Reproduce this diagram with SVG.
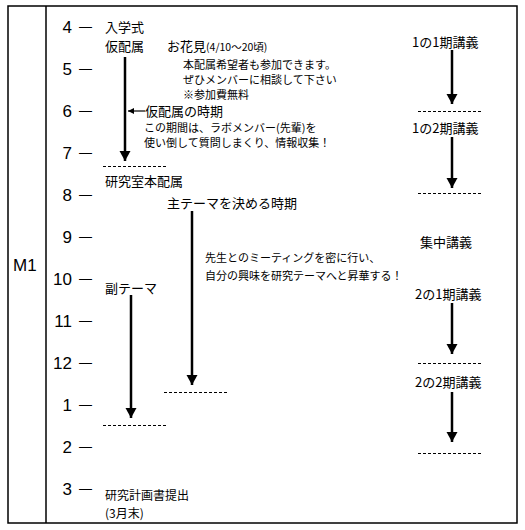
<svg xmlns="http://www.w3.org/2000/svg" width="525" height="530" viewBox="0 0 525 530">
<defs>
<style>
.num{font-family:"Liberation Sans",Arial,sans-serif;font-size:17px;fill:#000;text-anchor:end}
.dash{font-family:"Liberation Sans",Arial,sans-serif;font-size:13px;fill:#000}
.jp{font-family:"Noto Sans CJK JP","Noto Sans",sans-serif;font-size:13px;fill:#000}
.sm{font-family:"Noto Sans CJK JP","Noto Sans",sans-serif;font-size:11px;fill:#000}
.arr{stroke:#000;stroke-width:2.5;fill:none;marker-end:url(#ah)}
.dl{stroke:#000;stroke-width:1;stroke-dasharray:3 2;fill:none}
.frame{stroke:#000;stroke-width:1.5;fill:#fff}
</style>
<marker id="ah" markerUnits="userSpaceOnUse" markerWidth="11" markerHeight="12" refX="10" refY="5.5" orient="auto" viewBox="0 0 11 12">
<path d="M0,0 L10,5.5 L0,11 z" fill="#000"/>
</marker>
<marker id="ahs" markerUnits="userSpaceOnUse" markerWidth="7" markerHeight="6" refX="6" refY="3" orient="auto" viewBox="0 0 7 6">
<path d="M0,0 L6,3 L0,6 z" fill="#000"/>
</marker>
</defs>
<rect x="0" y="0" width="525" height="530" fill="#fff"/>
<g id="frame">
<rect class="frame" x="8" y="6" width="509" height="517"/>
<line x1="46" y1="6" x2="46" y2="523" stroke="#000" stroke-width="1.5"/>
<text x="13" y="271" style="font-family:'Liberation Sans',Arial,sans-serif;font-size:17px">M1</text>
</g>
<g id="months">
<text class="num" x="72" y="33">4</text><text class="dash" x="79" y="30.6">—</text>
<text class="num" x="72" y="75">5</text><text class="dash" x="79" y="72.6">—</text>
<text class="num" x="72" y="117">6</text><text class="dash" x="79" y="114.6">—</text>
<text class="num" x="72" y="159">7</text><text class="dash" x="79" y="156.6">—</text>
<text class="num" x="72" y="201">8</text><text class="dash" x="79" y="198.6">—</text>
<text class="num" x="72" y="243">9</text><text class="dash" x="79" y="240.6">—</text>
<text class="num" x="72" y="285">10</text><text class="dash" x="79" y="282.6">—</text>
<text class="num" x="72" y="327">11</text><text class="dash" x="79" y="324.6">—</text>
<text class="num" x="72" y="369">12</text><text class="dash" x="79" y="366.6">—</text>
<text class="num" x="72" y="411">1</text><text class="dash" x="79" y="408.6">—</text>
<text class="num" x="72" y="453">2</text><text class="dash" x="79" y="450.6">—</text>
<text class="num" x="72" y="495">3</text><text class="dash" x="79" y="492.6">—</text>
</g>
<g id="n-nyugaku">
<text class="jp" x="105" y="32">入学式</text>
<text class="jp" x="105" y="51">仮配属</text>
</g>
<g id="n-ohanami">
<text class="jp" x="167" y="51">お花見<tspan style="font-size:10.5px">(4/10～20頃)</tspan></text>
<text class="sm" x="183" y="69">本配属希望者も参加できます。</text>
<text class="sm" x="183" y="84">ぜひメンバーに相談して下さい</text>
<text class="sm" x="183" y="99">※参加費無料</text>
</g>
<g id="n-karihaizoku">
<text class="jp" x="145" y="116">仮配属の時期</text>
<text class="sm" x="144" y="132">この期間は、ラボメンバー(先輩)を</text>
<text class="sm" x="144" y="147">使い倒して質問しまくり、情報収集！</text>
</g>
<g id="n-honhaizoku"><text class="jp" x="105" y="186">研究室本配属</text></g>
<g id="n-shutheme"><text class="jp" x="167" y="208">主テーマを決める時期</text></g>
<g id="n-meeting">
<text class="sm" x="205" y="262">先生とのミーティングを密に行い、</text>
<text class="sm" x="205" y="280">自分の興味を研究テーマへと昇華する！</text>
</g>
<g id="n-fukutheme"><text class="jp" x="105" y="293">副テーマ</text></g>
<g id="n-keikaku">
<text class="jp" x="105" y="500" style="font-size:12px">研究計画書提出</text>
<text class="jp" x="105" y="518" style="font-size:12px">(3月末)</text>
</g>
<g id="n-lectures">
<text class="jp" x="412" y="47">1の1期講義</text>
<text class="jp" x="412" y="133">1の2期講義</text>
<text class="jp" x="420" y="247">集中講義</text>
<text class="jp" x="415" y="299">2の1期講義</text>
<text class="jp" x="415" y="387">2の2期講義</text>
</g>
<g id="connectors">
<line class="arr" x1="125" y1="57" x2="125" y2="161"/>
<line x1="145" y1="111" x2="128" y2="111" stroke="#000" stroke-width="1.2" marker-end="url(#ahs)"/>
<line class="arr" x1="452" y1="50" x2="452" y2="104"/>
<line class="arr" x1="452" y1="137" x2="452" y2="188"/>
<line class="arr" x1="192" y1="211" x2="192" y2="385"/>
<line class="arr" x1="131" y1="295" x2="131" y2="418"/>
<line class="arr" x1="452" y1="303" x2="452" y2="354"/>
<line class="arr" x1="452" y1="392" x2="452" y2="442"/>
<line class="dl" x1="103" y1="166.5" x2="168" y2="166.5"/>
<line class="dl" x1="418" y1="111.5" x2="483" y2="111.5"/>
<line class="dl" x1="418" y1="193.5" x2="483" y2="193.5"/>
<line class="dl" x1="164" y1="392.5" x2="229" y2="392.5"/>
<line class="dl" x1="103" y1="425.5" x2="168" y2="425.5"/>
<line class="dl" x1="418" y1="363.5" x2="483" y2="363.5"/>
<line class="dl" x1="418" y1="453.5" x2="483" y2="453.5"/>
</g>
</svg>
